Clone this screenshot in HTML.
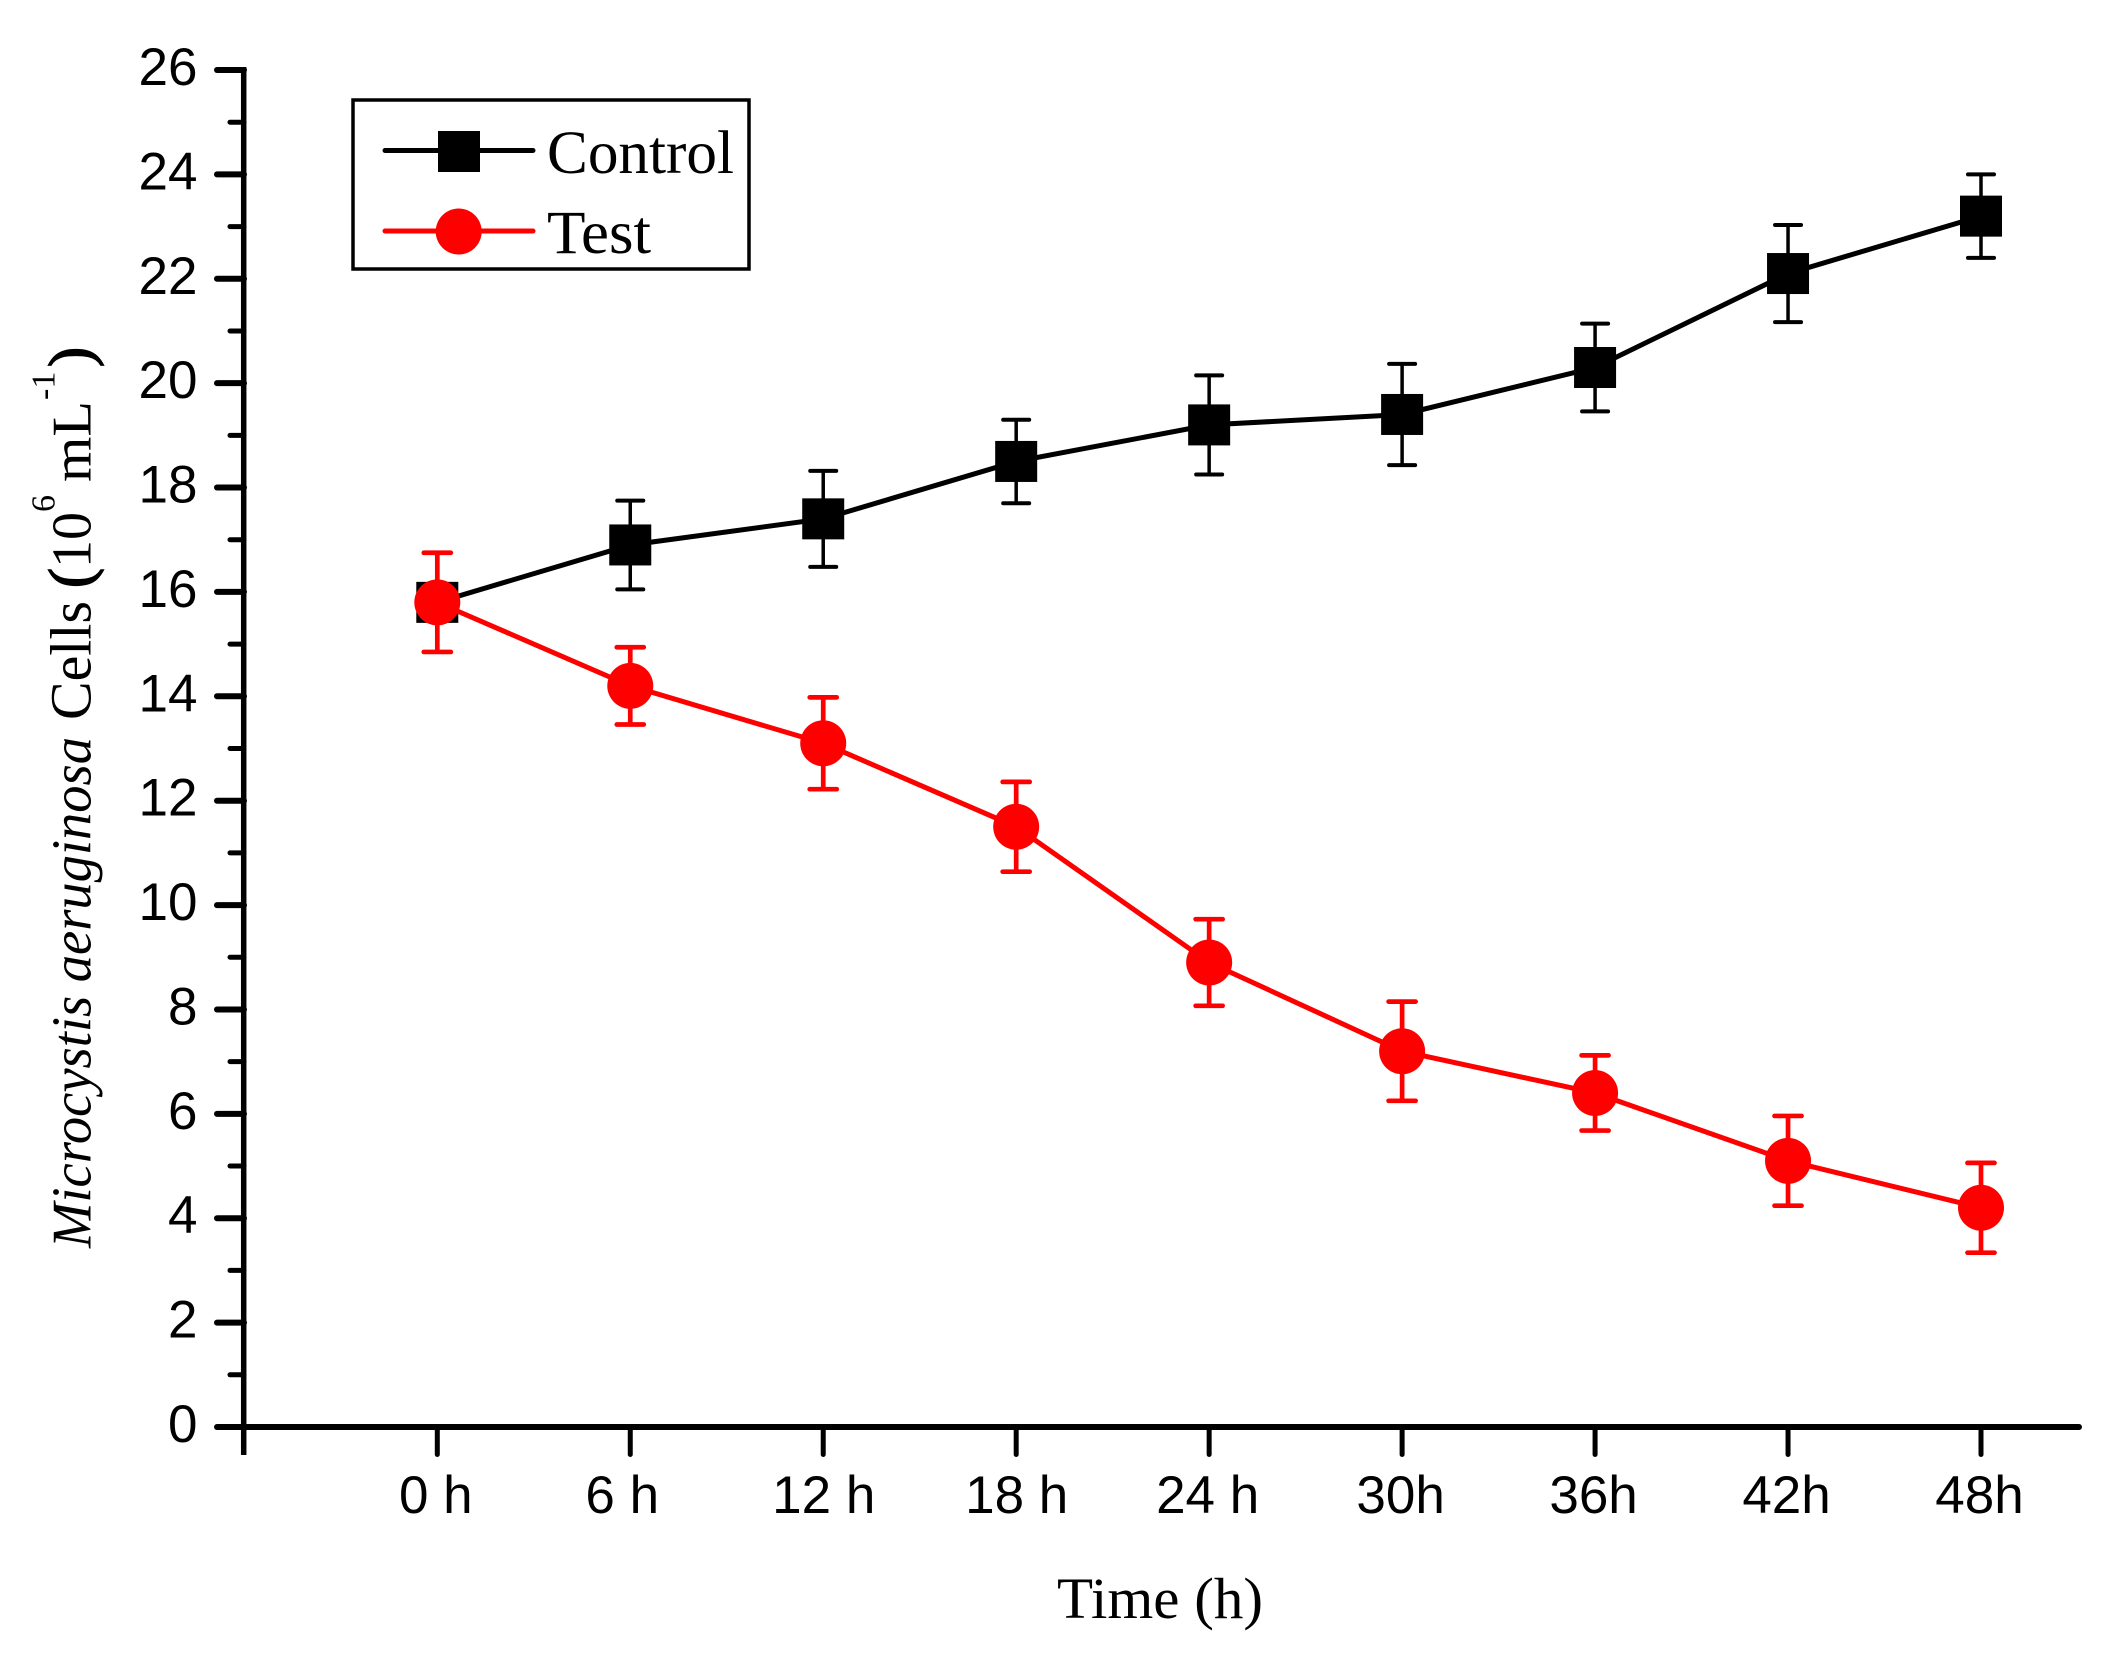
<!DOCTYPE html>
<html lang="en">
<head>
<meta charset="utf-8">
<title>Microcystis aeruginosa cell density over time</title>
<style>
html,body{margin:0;padding:0;background:#fff;}
svg{display:block;}
.num{font-family:"Liberation Sans",Arial,sans-serif;font-size:53px;fill:#000;}
.ser{font-family:"Liberation Serif","Times New Roman",serif;fill:#000;}
</style>
</head>
<body>
<svg id="chart" xmlns="http://www.w3.org/2000/svg" width="2109" height="1656" viewBox="0 0 2109 1656">
  <rect x="0" y="0" width="2109" height="1656" fill="#fff"/>
  <g id="axes"></g>
  <g id="series"></g>

  <g>
    <rect x="353" y="100" width="396" height="169" fill="#fff" stroke="#000" stroke-width="3.5"/>
    <g>
      <line x1="385" y1="150.5" x2="533" y2="150.5" stroke="#000" stroke-width="5" stroke-linecap="round"/>
      <rect x="438" y="131" width="42" height="41" fill="#000"/>
      <text class="ser" x="547" y="173" font-size="61" textLength="187" lengthAdjust="spacingAndGlyphs">Control</text>
    </g>
    <g>
      <line x1="385" y1="231" x2="533" y2="231" stroke="#f00" stroke-width="5" stroke-linecap="round"/>
      <circle cx="458.7" cy="231.5" r="23" fill="#f00"/>
      <text class="ser" x="547" y="253" font-size="61" textLength="104" lengthAdjust="spacingAndGlyphs">Test</text>
    </g>
  </g>

  <text class="ser" x="1166" y="1618" font-size="58" text-anchor="middle" textLength="206" lengthAdjust="spacingAndGlyphs" transform="translate(-6 0)">Time (h)</text>

  <g transform="translate(90.7 1248) rotate(-90)">
    <text class="ser" x="0" y="0" font-size="56" font-style="italic" textLength="511" lengthAdjust="spacingAndGlyphs">Microcystis aeruginosa</text>
    <text class="ser" x="528" y="0" font-size="58" textLength="119" lengthAdjust="spacingAndGlyphs">Cells</text>
    <text class="ser" x="660" y="0" font-size="60" stroke="#000" stroke-width="1.5">(</text>
    <text class="ser" x="680" y="0" font-size="56">10</text>
    <text class="ser" x="736" y="-36" font-size="34">6</text>
    <text class="ser" x="766" y="0" font-size="56" textLength="81" lengthAdjust="spacingAndGlyphs">mL</text>
    <text class="ser" x="848" y="-36" font-size="34">-1</text>
    <text class="ser" x="881" y="0" font-size="60" stroke="#000" stroke-width="1.5">)</text>
  </g>
</svg>

<script>
const categories = ['0 h', '6 h', '12 h', '18 h', '24 h', '30h', '36h', '42h', '48h'];
const controlValues = [15.8, 16.9, 17.4, 18.5, 19.2, 19.4, 20.3, 22.1, 23.2];
const controlErrors = [0.95, 0.85, 0.92, 0.80, 0.95, 0.97, 0.84, 0.93, 0.80];
const testValues = [15.8, 14.2, 13.1, 11.5, 8.9, 7.2, 6.4, 5.1, 4.2];
const testErrors = [0.95, 0.74, 0.88, 0.86, 0.83, 0.95, 0.72, 0.86, 0.86];
const yMajorTicks = [0, 2, 4, 6, 8, 10, 12, 14, 16, 18, 20, 22, 24, 26];
const yMinorTicks = [1, 3, 5, 7, 9, 11, 13, 15, 17, 19, 21, 23, 25];

const SVG_NS = 'http://www.w3.org/2000/svg';
const axesLayer = document.getElementById('axes');
const seriesLayer = document.getElementById('series');

function xScale(i) {
  return 437.3 + (1981 - 437.3) * i / (categories.length - 1);
}
function yScale(v) {
  return 1427 - (1427 - 70) * v / 26;
}
function make(tag, parent, props) {
  const el = document.createElementNS(SVG_NS, tag);
  for (const key in props) {
    el.setAttribute(key, props[key]);
  }
  parent.appendChild(el);
  return el;
}

// axis spines
const yAxisLine = make('line', axesLayer, {x1: 243.7, y1: 67, x2: 243.7, y2: 1455, stroke: '#000', 'stroke-width': 5.5});


const xAxisLine = make('line', axesLayer, {x1: 241, y1: 1427, x2: 2079, y2: 1427, stroke: '#000', 'stroke-width': 6, 'stroke-linecap': 'round'});



// y ticks
yMajorTicks.forEach(function (v) {
  const tick = make('line', axesLayer, {x1: 217, y1: yScale(v), x2: 244, y2: yScale(v), stroke: '#000', 'stroke-width': 6, 'stroke-linecap': 'round'});
  
  
  const label = make('text', axesLayer, {x: 197.5, y: yScale(v) + 15, class: 'num', 'text-anchor': 'end'});
  
  
  label.textContent = String(v);
});
yMinorTicks.forEach(function (v) {
  const tick = make('line', axesLayer, {x1: 230, y1: yScale(v), x2: 244, y2: yScale(v), stroke: '#000', 'stroke-width': 5, 'stroke-linecap': 'round'});
  
  
});

// x ticks
function labelNudge(i) {
  if (i === 1) {
    return -8;
  }
  return (i === 2 || i === 3) ? 0.5 : -1.5;
}
categories.forEach(function (name, i) {
  const tick = make('line', axesLayer, {x1: xScale(i), y1: 1427, x2: xScale(i), y2: 1454.5, stroke: '#000', 'stroke-width': 5, 'stroke-linecap': 'round'});
  
  
  const label = make('text', axesLayer, {x: xScale(i) + labelNudge(i), y: 1513, class: 'num', 'text-anchor': 'middle'});
  
  
  label.textContent = name;
});

function drawErrorBars(group, values, errors, color, stemWidth, capWidth, capHalf) {
  values.forEach(function (v, i) {
    const x = xScale(i);
    const stem = make('line', group, {x1: x, y1: yScale(v + errors[i]), x2: x, y2: yScale(v - errors[i]), stroke: color, 'stroke-width': stemWidth});
    
    
    const capTop = make('line', group, {x1: x - capHalf, y1: yScale(v + errors[i]), x2: x + capHalf, y2: yScale(v + errors[i]), stroke: color, 'stroke-width': capWidth, 'stroke-linecap': 'round'});
    
    
    const capBottom = make('line', group, {x1: x - capHalf, y1: yScale(v - errors[i]), x2: x + capHalf, y2: yScale(v - errors[i]), stroke: color, 'stroke-width': capWidth, 'stroke-linecap': 'round'});
    
    
  });
}
function linePoints(values) {
  return values.map(function (v, i) { return xScale(i) + ',' + yScale(v); }).join(' ');
}

// control series
const controlGroup = make('g', seriesLayer, {});


drawErrorBars(controlGroup, controlValues, controlErrors, '#000', 3.5, 4, 13);
const controlLine = make('polyline', controlGroup, {points: linePoints(controlValues), fill: 'none', stroke: '#000', 'stroke-width': 5});


controlValues.forEach(function (v, i) {
  const marker = make('rect', controlGroup, {x: xScale(i) - 21, y: yScale(v) - 20.5, width: 42, height: 41, fill: '#000'});
  
  
});

// test series
const testGroup = make('g', seriesLayer, {});


drawErrorBars(testGroup, testValues, testErrors, '#f00', 4.7, 4.7, 13.5);
const testLine = make('polyline', testGroup, {points: linePoints(testValues), fill: 'none', stroke: '#f00', 'stroke-width': 5});


testValues.forEach(function (v, i) {
  const marker = make('circle', testGroup, {cx: xScale(i), cy: yScale(v), r: 23, fill: '#f00'});
  
  
});
</script>
</body>
</html>
